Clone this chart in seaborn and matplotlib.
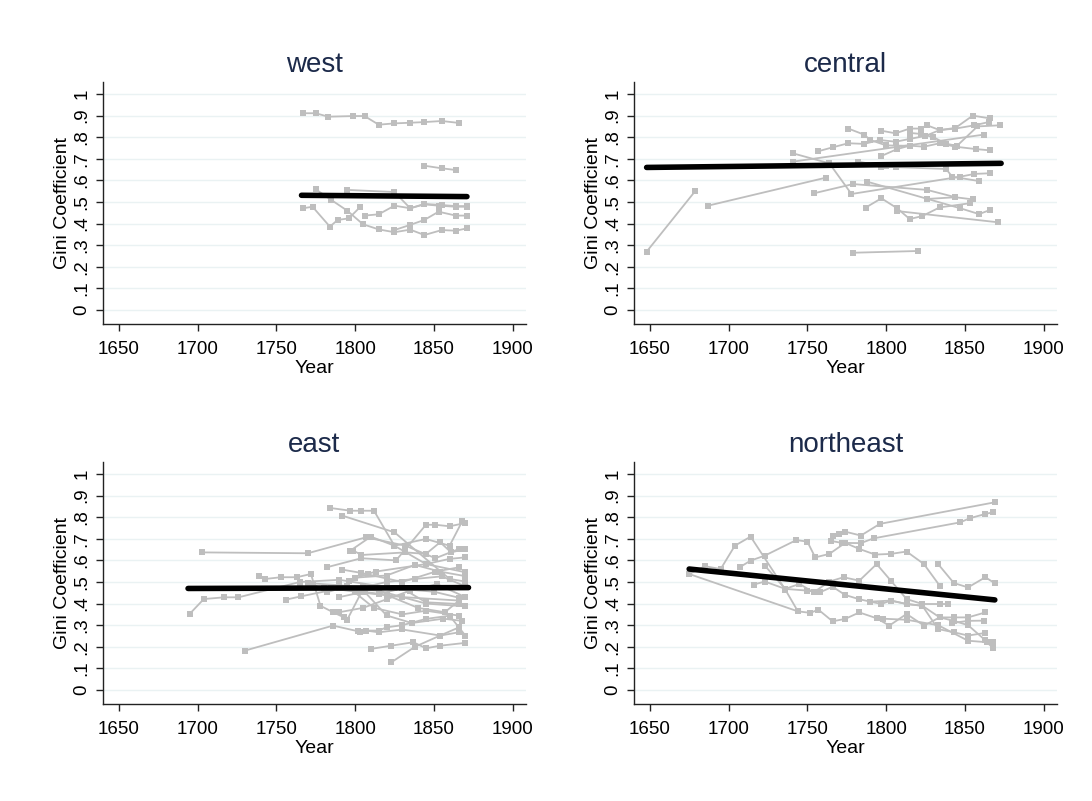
import numpy as np
import pandas as pd
import matplotlib
matplotlib.use("Agg")
import matplotlib.pyplot as plt
import seaborn as sns

sns.set_style("white")
plt.rcParams['font.family'] = ['Liberation Sans', 'DejaVu Sans']
plt.rcParams['text.color'] = 'black'
plt.rcParams['axes.labelcolor'] = 'black'
plt.rcParams['xtick.color'] = 'black'
plt.rcParams['ytick.color'] = 'black'

regions = ["west", "central", "east", "northeast"]

# each series: (years, gini values), one per locality
west_series = [
    ([1767, 1775, 1783, 1799, 1806, 1815, 1825, 1835, 1844, 1855, 1866],
     [.911, .911, .895, .898, .898, .858, .864, .867, .870, .875, .866]),
    ([1844, 1855, 1864], [.668, .656, .648]),
    ([1767, 1773, 1784, 1789, 1796, 1803], [.471, .478, .386, .417, .424, .475]),
    ([1775, 1785, 1795, 1805, 1815, 1825, 1835, 1844, 1855, 1864, 1871],
     [.559, .509, .460, .397, .373, .360, .372, .347, .370, .367, .378]),
    ([1795, 1825, 1835, 1844, 1855, 1864, 1871], [.556, .546, .471, .491, .486, .481, .481]),
    ([1806, 1815, 1825, 1835, 1844, 1853, 1864, 1871], [.437, .443, .483, .471, .489, .483, .478, .478]),
    ([1825, 1835, 1844, 1853, 1864, 1871], [.370, .394, .417, .455, .437, .437]),
]

central_series = [
    ([1648, 1679], [.270, .552]),
    ([1687, 1762], [.483, .613]),
    ([1779, 1820], [.265, .273]),
    ([1741, 1764, 1778, 1847, 1856, 1866], [.725, .679, .537, .617, .630, .633]),
    ([1754, 1779, 1826, 1844, 1855], [.540, .583, .556, .522, .512]),
    ([1788, 1847, 1859, 1866], [.594, .471, .444, .463]),
    ([1787, 1797, 1807, 1815, 1823, 1834, 1853], [.474, .517, .471, .421, .435, .475, .494]),
    ([1807, 1871], [.458, .406]),
    ([1797, 1838, 1842, 1859], [.664, .653, .617, .597]),
    ([1826, 1844], [.514, .522]),
    ([1776, 1786, 1790, 1800, 1815], [.840, .812, .787, .762, .760]),
    ([1757, 1766, 1776, 1786, 1796, 1806, 1815, 1825, 1834, 1844, 1856, 1865],
     [.735, .753, .772, .769, .787, .779, .792, .806, .833, .840, .855, .870]),
    ([1797, 1806, 1815, 1822, 1826, 1834, 1844, 1855, 1866],
     [.830, .818, .840, .840, .855, .833, .843, .900, .887]),
    ([1797, 1807, 1815, 1824, 1834, 1844, 1857, 1866],
     [.713, .745, .761, .756, .772, .756, .745, .739]),
    ([1741, 1862], [.687, .812]),
    ([1815, 1822, 1830, 1838, 1845, 1858, 1872], [.820, .815, .800, .770, .760, .850, .855]),
    ([1782, 1800, 1806], [.687, .665, .662]),
]

east_series = [
    ([1695, 1704, 1717, 1726, 1765, 1790, 1825, 1850, 1866],
     [.352, .421, .429, .429, .500, .510, .470, .455, .427]),
    ([1703, 1770, 1807, 1832, 1851, 1866], [.637, .633, .707, .668, .610, .653]),
    ([1784, 1797, 1804, 1812, 1825, 1845, 1870], [.843, .830, .830, .830, .668, .583, .545]),
    ([1792, 1825, 1860, 1870], [.807, .730, .514, .502]),
    ([1730, 1786, 1803, 1807, 1815, 1830, 1854, 1866], [.182, .298, .270, .275, .267, .280, .252, .267]),
    ([1739, 1743, 1753, 1763, 1772, 1778, 1786, 1793, 1795, 1804, 1830, 1866],
     [.529, .514, .522, .522, .537, .390, .360, .336, .325, .452, .430, .414]),
    ([1756, 1766, 1790, 1815, 1845, 1870], [.418, .434, .470, .460, .400, .387]),
    ([1782, 1804, 1826, 1845, 1851, 1860, 1870], [.568, .610, .600, .765, .765, .758, .773]),
    ([1792, 1804, 1830, 1851, 1866], [.557, .542, .500, .548, .568]),
    ([1796, 1808, 1813, 1845, 1860, 1870], [.506, .537, .548, .583, .607, .614]),
    ([1797, 1810, 1825, 1845, 1860, 1868], [.645, .710, .668, .699, .668, .781]),
    ([1799, 1804, 1832, 1845, 1854, 1861, 1870], [.645, .625, .637, .630, .684, .637, .653]),
    ([1810, 1823, 1837, 1845, 1854, 1870], [.190, .205, .221, .193, .205, .218]),
    ([1823, 1838, 1854, 1866], [.128, .200, .252, .290]),
    ([1802, 1815, 1820, 1830, 1845, 1860, 1870], [.275, .275, .290, .300, .329, .344, .252]),
    ([1765, 1780, 1800, 1815, 1830, 1845, 1866], [.480, .470, .460, .445, .470, .406, .398]),
    ([1770, 1790, 1805, 1820, 1838, 1855, 1870], [.495, .485, .475, .500, .514, .526, .480]),
    ([1785, 1800, 1820, 1840, 1857, 1866], [.470, .455, .440, .380, .360, .414]),
    ([1790, 1805, 1820, 1835, 1852, 1870], [.360, .380, .420, .460, .490, .430]),
    ([1773, 1782, 1795, 1812, 1830, 1845, 1866], [.492, .452, .480, .380, .350, .367, .344]),
    ([1800, 1820, 1838, 1854, 1870], [.520, .530, .579, .548, .527]),
    ([1790, 1806, 1820, 1836, 1856, 1868], [.430, .455, .345, .310, .330, .320]),
]

northeast_series = [
    ([1675, 1685, 1695, 1704, 1714, 1736, 1744, 1752, 1757, 1766, 1774, 1783, 1794, 1802, 1813,
      1824, 1834, 1843, 1852, 1863],
     [.537, .573, .560, .668, .710, .465, .364, .357, .372, .318, .329, .359, .332, .298, .352,
      .298, .336, .336, .336, .359]),
    ([1675, 1744], [.537, .364]),
    ([1707, 1714, 1723, 1743, 1750, 1755, 1764, 1774, 1783, 1793, 1803, 1813, 1824, 1834],
     [.568, .599, .622, .694, .687, .614, .630, .681, .653, .627, .630, .641, .583, .483]),
    ([1716, 1723, 1736, 1745, 1754, 1764, 1773, 1783, 1794, 1803, 1813, 1823, 1834, 1839],
     [.488, .502, .468, .491, .452, .502, .522, .506, .583, .506, .421, .398, .398, .398]),
    ([1723, 1736, 1750, 1758, 1766, 1774, 1783, 1790, 1803, 1813, 1823, 1833, 1843, 1852, 1863],
     [.576, .468, .460, .452, .478, .440, .420, .409, .414, .398, .390, .282, .267, .252, .264]),
    ([1766, 1770, 1774, 1784, 1796, 1869], [.715, .722, .733, .715, .769, .869]),
    ([1765, 1772, 1784, 1792, 1847, 1853, 1863, 1868], [.690, .681, .680, .702, .776, .795, .815, .823]),
    ([1833, 1843, 1852, 1863, 1869], [.583, .495, .475, .522, .494]),
    ([1790, 1797, 1803, 1813, 1823, 1834, 1843, 1852, 1863, 1868],
     [.409, .398, .414, .398, .390, .336, .320, .300, .230, .221]),
    ([1798, 1813, 1833, 1852, 1864, 1868], [.330, .325, .300, .228, .221, .193]),
    ([1842, 1852, 1862], [.310, .320, .321]),
]

# fitted trend per region (end points)
fit_years = {"west": [1766, 1871], "central": [1648, 1873],
             "east": [1694, 1872], "northeast": [1675, 1869]}
fit_gini = {"west": [.531, .525], "central": [.660, .679],
            "east": [.470, .474], "northeast": [.560, .417]}

all_series = dict(zip(regions, [west_series, central_series, east_series, northeast_series]))

rows = []
for region in regions:
    for i, (yrs, vals) in enumerate(all_series[region]):
        for yr, v in zip(yrs, vals):
            rows.append((region, region + str(i), yr, v))
df = pd.DataFrame(rows, columns=["region", "town", "Year", "gini"])

fig = plt.figure(figsize=(10.92, 8.01), dpi=100)
positions = [[0.0943, 0.5955, 0.3874, 0.3025], [0.5806, 0.5955, 0.3874, 0.3025],
             [0.0943, 0.1211, 0.3874, 0.3025], [0.5806, 0.1211, 0.3874, 0.3025]]

ytick_vals = np.round(np.arange(0, 1.01, 0.1), 1)
ytick_labels = ["0", ".1", ".2", ".3", ".4", ".5", ".6", ".7", ".8", ".9", "1"]

for region, pos in zip(regions, positions):
    ax = fig.add_axes(pos)
    sub = df[df["region"] == region]
    sns.lineplot(data=sub, x="Year", y="gini", units="town", estimator=None, sort=False,
                 color="#BEBEBE", lw=1.3, marker="s", markersize=4.8, markeredgewidth=0, ax=ax)
    fitdf = pd.DataFrame({"Year": fit_years[region], "gini": fit_gini[region]})
    sns.lineplot(data=fitdf, x="Year", y="gini", color="black", lw=4.0, ax=ax,
                 solid_capstyle="round")

    ax.set_xlim(1640, 1908.5)
    ax.set_ylim(-0.065, 1.057)
    ax.set_xticks([1650, 1700, 1750, 1800, 1850, 1900])
    ax.set_yticks(ytick_vals)
    ax.set_yticklabels(ytick_labels, rotation=90, va="center")
    ax.yaxis.grid(True, color="#EAF2F3", lw=1)
    ax.xaxis.grid(False)
    ax.set_axisbelow(True)
    for s in ["top", "right"]:
        ax.spines[s].set_visible(False)
    for s in ["left", "bottom"]:
        ax.spines[s].set_color("#222222")
        ax.spines[s].set_linewidth(1.0)
    ax.tick_params(axis="both", length=5, width=1, color="#222222", labelsize=13.5,
                   labelcolor="black", left=True, bottom=True)
    ax.tick_params(axis="x", pad=7)
    ax.tick_params(axis="y", pad=4)
    ax.set_xlabel("Year", fontsize=14, labelpad=2)
    ax.set_ylabel("Gini Coefficient", fontsize=14, labelpad=2)
    ax.set_title(region, fontsize=20, color="#1C2A4A", pad=7)

fig.savefig("out.png", dpi=100)
